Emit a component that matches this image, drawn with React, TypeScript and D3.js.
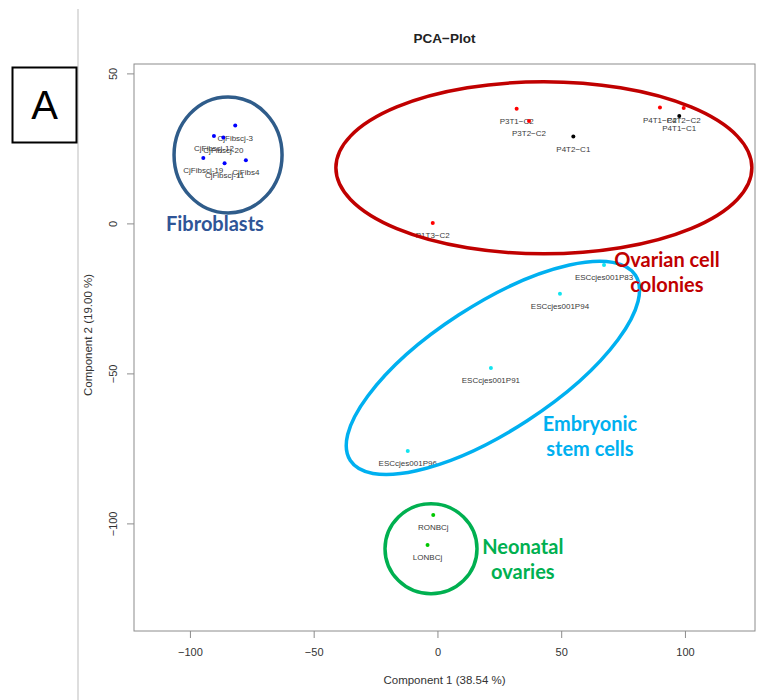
import React from "react";
import * as d3 from "d3";

// PCA scores per sample
const sampleNames = [
  "CjFibscj-3", "CjFibscj-12", "CjFibscj-20", "CjFibscj-19", "CjFibs4", "CjFibscj-11",
  "P3T1−C2", "P3T2−C2", "P4T2−C1", "P4T1−C2", "P4T2−C2", "P4T1−C1", "P1T3−C2",
  "ESCcjes001P83", "ESCcjes001P94", "ESCcjes001P91", "ESCcjes001P96",
  "RONBCj", "LONBCj",
];
const component1 = [
  -81.9, -90.5, -86.7, -94.8, -77.6, -86.2,
  31.8, 36.8, 54.7, 89.7, 99.3, 97.5, -2.1,
  67.1, 49.3, 21.4, -12.2,
  -1.9, -4.2,
];
const component2 = [
  32.8, 29.3, 28.8, 22.0, 21.2, 20.2,
  38.4, 34.3, 29.1, 38.8, 38.6, 36.0, 0.3,
  -13.7, -23.3, -48.0, -75.7,
  -97.0, -107.0,
];
const sampleColors = [
  "#0000FF", "#0000FF", "#0000FF", "#0000FF", "#0000FF", "#0000FF",
  "#FF0000", "#FF0000", "#000000", "#FF0000", "#FF0000", "#000000", "#FF0000",
  "#12E4F0", "#12E4F0", "#12E4F0", "#12E4F0",
  "#00C800", "#00C800",
];

const xTicks = [-100, -50, 0, 50, 100];
const yTicks = [50, 0, -50, -100];
const xDomain: [number, number] = [-122.8, 128.1];
const yDomain: [number, number] = [-135.7, 53.3];

// Group outlines: centre in data units, radii in pixels, rotation in degrees
const groupNames = ["Fibroblasts", "Ovarian", "Embryonic", "Neonatal"];
const groupCx = [-84.8, 42.8, 22.2, -2.8];
const groupCy = [23.0, 18.7, -48.0, -108.3];
const groupRx = [54, 208, 170, 46];
const groupRy = [58, 86, 63, 45];
const groupAngle = [0, 0, -33, 0];
const groupStroke = ["#2F5C8A", "#C00000", "#00B0F0", "#00B050"];

// Group captions
const captionLines = [["Fibroblasts"], ["Ovarian cell", "colonies"], ["Embryonic", "stem cells"], ["Neonatal", "ovaries"]];
const captionX = [-90.1, 92.5, 61.4, 34.3];
const captionY = [0, -16.3, -70.7, -111.7];
const captionColors = ["#2F5597", "#C00000", "#00B0F0", "#00B050"];

const W = 762;
const H = 700;
const plotLeft = 134;
const plotRight = 755;
const plotTop = 64;
const plotBottom = 631;

export default function App() {
  const x = d3.scaleLinear().domain(xDomain).range([plotLeft, plotRight]);
  const y = d3.scaleLinear().domain(yDomain).range([plotBottom, plotTop]);
  const axisFont = "'Liberation Sans', Arial, sans-serif";
  const captionFont = "Lato, 'Open Sans', sans-serif";

  return (
    <svg
      width={W}
      height={H}
      style={{ position: "absolute", left: 0, top: 0, background: "#fff" }}
      fontFamily={axisFont}
    >
      <rect x={0} y={0} width={W} height={H} fill="#fff" />
      {/* panel divider and panel letter */}
      <line x1={78} x2={78} y1={9} y2={H} stroke="#BDBDBD" strokeWidth={1} />
      <rect x={12.5} y={67.5} width={64} height={75} fill="none" stroke="#000" strokeWidth={2} />
      <text x={44.5} y={119} textAnchor="middle" fontSize={40} fontFamily={axisFont} fill="#000">
        A
      </text>

      {/* title */}
      <text x={(plotLeft + plotRight) / 2} y={43} textAnchor="middle" fontSize={13.5} fontWeight="bold" fill="#222">
        PCA−Plot
      </text>

      {/* plot frame */}
      <rect
        x={plotLeft}
        y={plotTop}
        width={plotRight - plotLeft}
        height={plotBottom - plotTop}
        fill="none"
        stroke="#8C8C8C"
        strokeWidth={1}
      />

      {/* x axis */}
      {xTicks.map((t) => (
        <g key={"xt" + t}>
          <line x1={x(t)} x2={x(t)} y1={plotBottom} y2={plotBottom + 7} stroke="#8C8C8C" />
          <text x={x(t)} y={656} textAnchor="middle" fontSize={11} fill="#333">
            {t < 0 ? "−" + Math.abs(t) : String(t)}
          </text>
        </g>
      ))}
      <text x={(plotLeft + plotRight) / 2} y={684} textAnchor="middle" fontSize={11.5} fill="#333">
        Component 1 (38.54 %)
      </text>

      {/* y axis */}
      {yTicks.map((t) => (
        <g key={"yt" + t}>
          <line x1={plotLeft - 7} x2={plotLeft} y1={y(t)} y2={y(t)} stroke="#8C8C8C" />
          <text
            transform={`translate(117,${y(t)}) rotate(-90)`}
            textAnchor="middle"
            fontSize={11}
            fill="#333"
          >
            {t < 0 ? "−" + Math.abs(t) : String(t)}
          </text>
        </g>
      ))}
      <text
        transform={`translate(92,335) rotate(-90)`}
        textAnchor="middle"
        fontSize={11.5}
        fill="#333"
      >
        Component 2 (19.00 %)
      </text>

      {/* samples */}
      {sampleNames.map((name, i) => (
        <g key={name}>
          <circle cx={x(component1[i])} cy={y(component2[i])} r={2} fill={sampleColors[i]} />
          <text
            x={x(component1[i])}
            y={y(component2[i]) + 15}
            textAnchor="middle"
            fontSize={8}
            fill="#3A3A3A"
          >
            {name}
          </text>
        </g>
      ))}

      {/* group outlines */}
      {groupNames.map((g, i) => (
        <ellipse
          key={g}
          cx={0}
          cy={0}
          rx={groupRx[i]}
          ry={groupRy[i]}
          transform={`translate(${x(groupCx[i])},${y(groupCy[i])}) rotate(${groupAngle[i]})`}
          fill="none"
          stroke={groupStroke[i]}
          strokeWidth={3.5}
        />
      ))}

      {/* group captions */}
      {captionLines.map((lines, i) => (
        <text
          key={"cap" + i}
          x={x(captionX[i])}
          y={y(captionY[i])}
          textAnchor="middle"
          fontFamily={captionFont}
          fontWeight="bold"
          fontSize={20}
          fill={captionColors[i]}
        >
          {lines.map((l, j) => (
            <tspan
              key={j}
              x={x(captionX[i])}
              dy={j === 0 ? (lines.length === 1 ? 7 : -5.5) : 25}
            >
              {l}
            </tspan>
          ))}
        </text>
      ))}
    </svg>
  );
}
